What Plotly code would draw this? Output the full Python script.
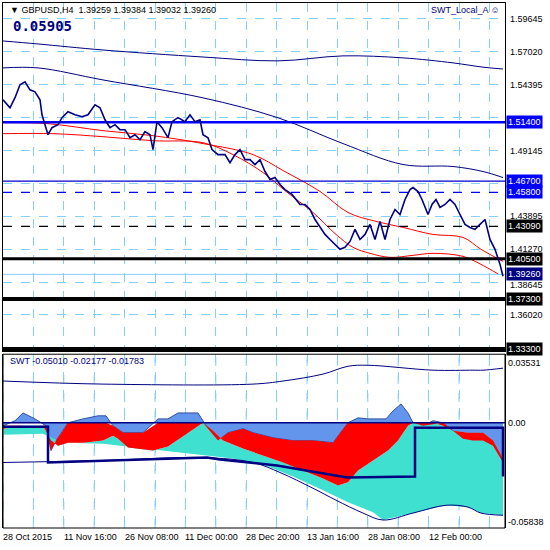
import plotly.graph_objects as go

# ---- price panel (x = bar index) ----
px_x = [0, 7, 12, 17, 22, 27, 32, 37, 39, 42, 45, 49, 55, 59, 65, 72, 79, 85, 92, 97, 102, 107, 112, 117, 122, 127,
        132, 137, 142, 147, 150, 154, 159, 165, 169, 175, 182, 187, 192, 197, 200, 205, 209, 215, 222, 227, 232, 237,
        242, 247, 252, 257, 262, 267, 272, 277, 282, 289, 297, 302, 307, 312, 317, 322, 327, 332, 337, 342, 347, 352,
        357, 362, 367, 372, 377, 382, 387, 392, 397, 402, 407, 410, 415, 419, 425, 429, 433, 437, 442, 447, 452, 457,
        462, 467, 472, 477, 482, 487, 492, 497, 500]
price = [1.5320, 1.5256, 1.5336, 1.5439, 1.5463, 1.5399, 1.5383, 1.5320, 1.5200, 1.5121, 1.5041, 1.5097, 1.5121,
         1.5177, 1.5224, 1.5200, 1.5184, 1.5200, 1.5280, 1.5256, 1.5160, 1.5097, 1.5121, 1.5081, 1.5081, 1.5017,
         1.5041, 1.5001, 1.5065, 1.5041, 1.4922, 1.5145, 1.5097, 1.5017, 1.5145, 1.5177, 1.5145, 1.5200, 1.5145,
         1.5160, 1.5041, 1.5017, 1.4922, 1.4882, 1.4882, 1.4818, 1.4882, 1.4922, 1.4842, 1.4842, 1.4802, 1.4842,
         1.4747, 1.4683, 1.4699, 1.4643, 1.4603, 1.4564, 1.4484, 1.4484, 1.4444, 1.4364, 1.4301, 1.4245, 1.4205,
         1.4166, 1.4126, 1.4142, 1.4189, 1.4285, 1.4205, 1.4245, 1.4325, 1.4205, 1.4349, 1.4205, 1.4364, 1.4444,
         1.4404, 1.4524, 1.4603, 1.4619, 1.4587, 1.4524, 1.4404, 1.4484, 1.4524, 1.4460, 1.4484, 1.4524, 1.4484,
         1.4404, 1.4325, 1.4301, 1.4285, 1.4325, 1.4364, 1.4205, 1.4126, 1.4006, 1.3911]

ma_fast_x = [0, 50, 100, 150, 200, 230, 260, 283, 310, 333, 350, 367, 387, 410, 430, 460, 477, 495]
ma_fast = [1.5049, 1.5049, 1.5025, 1.4993, 1.4977, 1.4882, 1.4739, 1.4588, 1.4420, 1.4245, 1.4142, 1.4094,
           1.4062, 1.4078, 1.4094, 1.4070, 1.4010, 1.3930]
ma_slow_x = [0, 45, 100, 150, 200, 250, 280, 317, 345, 373, 400, 430, 460, 478, 500]
ma_slow = [1.5137, 1.5129, 1.5073, 1.5033, 1.4970, 1.4882, 1.4755, 1.4588, 1.4420, 1.4349, 1.4301, 1.4245,
           1.4221, 1.4126, 1.4030]

env_x = [0, 35, 100, 200, 275, 340, 400, 450, 480, 500]
env_hi = [1.5789, 1.5765, 1.5717, 1.5661, 1.5630, 1.5670, 1.5654, 1.5614, 1.5580, 1.5565]
env_lo = [1.5574, 1.5574, 1.5478, 1.5335, 1.5176, 1.4970, 1.4803, 1.4787, 1.4747, 1.4699]

grid_prices = [1.59645, 1.57020, 1.54395, 1.51770, 1.49145, 1.46520, 1.43895, 1.41270, 1.38645, 1.36020]
grid_labels = ["1.59645", "1.57020", "1.54395", "", "1.49145", "", "1.43895", "1.41270", "1.38645", "1.36020"]

levels = [1.5140, 1.4670, 1.4580, 1.4309, 1.4050, 1.3926, 1.3730, 1.3330]
level_colors = ["#0000ff", "#0000cc", "#0000ff", "#000000", "#000000", "#87cefa", "#000000", "#000000"]
level_widths = [2.5, 1.2, 1.2, 1.2, 3, 1, 4, 4]
level_dash = ["solid", "solid", "dash", "dash", "solid", "solid", "solid", "solid"]
box_colors = ["#0000ff", "#0000ff", "#0000ff", "#000000", "#000000", "#000080", "#000000", "#000000"]

# ---- SWT panel ----
blue_x = [0, 12, 20, 32, 43, 48, 53, 60, 65, 80, 95, 103, 110, 120, 140, 155, 165, 175, 185, 195, 205, 215, 225,
          240, 250, 270, 290, 310, 330, 345, 355, 365, 375, 383, 390, 398, 405, 410, 420, 430, 440, 450, 460, 470,
          480, 490, 500]
blue = [-0.0018, 0.0012, 0.0058, 0.0023, -0.0018, -0.0164, -0.0105, -0.0047, 0.0, 0.0023, 0.0041, 0.0041, -0.0018,
        -0.0058, -0.0058, 0.0023, 0.0023, 0.0058, 0.0058, 0.0058, -0.0035, -0.0105, -0.0058, -0.0035, -0.0058,
        -0.0088, -0.0105, -0.0105, -0.0117, 0.0, 0.0029, 0.0023, 0.0023, 0.0023, 0.0070, 0.0111, 0.0058, 0.0,
        -0.0018, 0.0012, 0.0, -0.0047, -0.0094, -0.0105, -0.0105, -0.0135, -0.0234]
red_top_x = [0, 43, 48, 53, 60, 65, 103, 110, 120, 140, 155, 200, 205, 215, 225, 240, 250, 270, 290, 310, 330,
             345, 410, 420, 440, 450, 460, 470, 480, 490, 500]
red_top = [-0.0018, -0.0018, -0.0164, -0.0105, -0.0047, 0.0, 0.0, -0.0018, -0.0058, -0.0058, 0.0, 0.0, -0.0035,
           -0.0105, -0.0058, -0.0035, -0.0058, -0.0088, -0.0105, -0.0105, -0.0117, 0.0, 0.0, -0.0018, 0.0,
           -0.0047, -0.0094, -0.0105, -0.0105, -0.0135, -0.0234]
turq_x = [0, 20, 40, 48, 55, 65, 80, 100, 110, 115, 125, 150, 165, 185, 200, 210, 220, 240, 260, 280, 300, 320,
          335, 345, 355, 370, 385, 395, 400, 405, 410, 430, 440, 450, 465, 480, 490, 500]
turq_top = [-0.0035, -0.0018, -0.0018, -0.0105, -0.0135, -0.0117, -0.0117, -0.0105, -0.0076, -0.0094, -0.0146,
            -0.0164, -0.0140, -0.0058, 0.0, -0.0047, -0.0105, -0.0152, -0.0193, -0.0234, -0.0281, -0.0328,
            -0.0369, -0.0351, -0.0281, -0.0222, -0.0164, -0.0105, -0.0058, -0.0018, 0.0, 0.0, -0.0018, -0.0047,
            -0.0058, -0.0058, -0.0105, -0.0211]
turq_bot_x = [0, 40, 60, 100, 150, 200, 230, 260, 290, 320, 345, 370, 380, 410, 443, 465, 478, 500]
turq_bot = [-0.0070, -0.0064, -0.0117, -0.0123, -0.0158, -0.0193, -0.0211, -0.0246, -0.0316, -0.0398, -0.0468,
            -0.0527, -0.0573, -0.0532, -0.0486, -0.0497, -0.0532, -0.0545]
up_x = [0, 100, 250, 280, 320, 345, 365, 430, 470, 480, 500]
swt_up = [0.0246, 0.0228, 0.0228, 0.0246, 0.0287, 0.0333, 0.0339, 0.0310, 0.0310, 0.0310, 0.0322]
lo_x = [0, 100, 200, 250, 277, 310, 333, 360, 380, 410, 443, 465, 478, 500]
swt_lo = [-0.0234, -0.0222, -0.0205, -0.0234, -0.0293, -0.0386, -0.0456, -0.0532, -0.0573, -0.0532, -0.0486,
          -0.0497, -0.0532, -0.0545]
step_x = [0, 45, 45, 204, 217, 274, 344, 412, 412, 500, 500]
step = [-0.0023, -0.0023, -0.0234, -0.0205, -0.0216, -0.0252, -0.0322, -0.0316, -0.0029, -0.0029, -0.0316]

time_pos = [0, 61, 122, 182, 243, 304, 365, 426]
time_labels = ["28 Oct 2015", "11 Nov 16:00", "26 Nov 08:00", "11 Dec 00:00", "28 Dec 20:00",
               "13 Jan 16:00", "28 Jan 08:00", "12 Feb 00:00"]

NAVY = "#000080"
FONT = "Liberation Sans"
fig = go.Figure()

for xs, ys in [(env_x, env_hi), (env_x, env_lo)]:
    fig.add_trace(go.Scatter(x=xs, y=ys, mode="lines", line=dict(color=NAVY, width=1), line_shape="spline"))
for xs, ys in [(ma_fast_x, ma_fast), (ma_slow_x, ma_slow)]:
    fig.add_trace(go.Scatter(x=xs, y=ys, mode="lines", line=dict(color="red", width=1), line_shape="spline"))
for lv, c, w, d in zip(levels, level_colors, level_widths, level_dash):
    fig.add_trace(go.Scatter(x=[0, 502], y=[lv, lv], mode="lines", line=dict(color=c, width=w, dash=d)))
fig.add_trace(go.Scatter(x=px_x, y=price, mode="lines", line=dict(color=NAVY, width=1.6)))

# SWT fills
fig.add_trace(go.Scatter(x=blue_x, y=blue, mode="lines", fill="tozeroy", fillcolor="#6495ed",
                         line=dict(color="#3050a0", width=1), yaxis="y2"))
fig.add_trace(go.Scatter(x=turq_bot_x, y=turq_bot, mode="lines", line=dict(width=0), yaxis="y2"))
fig.add_trace(go.Scatter(x=turq_x, y=turq_top, mode="lines", fill="tonexty", fillcolor="#40e0d0",
                         line=dict(width=0), yaxis="y2"))
fig.add_trace(go.Scatter(x=turq_x, y=turq_top, mode="lines", line=dict(width=0), yaxis="y2"))
fig.add_trace(go.Scatter(x=red_top_x, y=red_top, mode="lines", fill="tonexty", fillcolor="#ff0000",
                         line=dict(width=0), yaxis="y2"))
fig.add_trace(go.Scatter(x=[0, 502], y=[0, 0], mode="lines", line=dict(color=NAVY, width=1.5), yaxis="y2"))
fig.add_trace(go.Scatter(x=up_x, y=swt_up, mode="lines", line=dict(color=NAVY, width=1), line_shape="spline", yaxis="y2"))
fig.add_trace(go.Scatter(x=lo_x, y=swt_lo, mode="lines", line=dict(color=NAVY, width=1), line_shape="spline", yaxis="y2"))
fig.add_trace(go.Scatter(x=step_x, y=step, mode="lines", line=dict(color=NAVY, width=2.5), yaxis="y2"))

ann = []
for p, t in zip(grid_prices, grid_labels):
    if t:
        ann.append(dict(x=1, xref="paper", y=p, yref="y", text=t, xanchor="left", showarrow=False,
                        font=dict(size=9, color="black"), xshift=3, yshift=-3 if p == 1.38645 else 0))
for lv, bc in zip(levels, box_colors):
    ann.append(dict(x=1, xref="paper", y=lv, yref="y", text=f"{lv:.5f}", xanchor="left", showarrow=False,
                    font=dict(size=9, color="white"), bgcolor=bc, borderpad=1, xshift=1))
for t, y in [("0.03531", 0.0353), ("0.00", 0.0), ("-0.05838", -0.0584)]:
    ann.append(dict(x=1, xref="paper", y=y, yref="y2", text=t, xanchor="left", showarrow=False,
                    font=dict(size=9, color="black"), xshift=1))
for pos, t in zip(time_pos, time_labels):
    ann.append(dict(x=pos, xref="x", y=0, yref="paper", text=t, xanchor="left", yanchor="top", showarrow=False,
                    font=dict(size=9, color="black"), yshift=-2, xshift=-2))
ann += [
    dict(x=0.01, xref="paper", y=1, yref="paper", text="▼ GBPUSD,H4  1.39259 1.39384 1.39032 1.39260",
         xanchor="left", yanchor="top", showarrow=False, font=dict(size=9, color="black")),
    dict(x=0.015, xref="paper", y=0.975, yref="paper", text="<b>0.05905</b>", xanchor="left", yanchor="top",
         showarrow=False, font=dict(size=14, color=NAVY, family="DejaVu Sans Mono")),
    dict(x=0.995, xref="paper", y=1, yref="paper", text="SWT_Local_A ☺", xanchor="right", yanchor="top",
         showarrow=False, font=dict(size=9, color=NAVY)),
    dict(x=0.01, xref="paper", y=0.331, yref="paper", text="SWT -0.05010 -0.02177 -0.01783", xanchor="left",
         yanchor="top", showarrow=False, font=dict(size=9, color=NAVY)),
]

fig.update_layout(
    width=550, height=550, margin=dict(l=3, r=45, t=3, b=22),
    paper_bgcolor="white", plot_bgcolor="white", showlegend=False,
    font=dict(family=FONT),
    xaxis=dict(range=[0, 502], tick0=0, dtick=30.4, showgrid=True, gridcolor="#87cefa", griddash="dash",
               showticklabels=False, zeroline=False, showline=True, linecolor="black", mirror=True),
    yaxis=dict(domain=[0.337, 1], range=[1.3314, 1.6092], tickvals=grid_prices, showticklabels=False,
               gridcolor="#87cefa", griddash="dash", zeroline=False, showline=True, linecolor="black",
               mirror=True, side="right", ticks=""),
    yaxis2=dict(domain=[0, 0.331], range=[-0.062, 0.0404], showgrid=False, showticklabels=False,
                zeroline=False, showline=True, linecolor="black", mirror=True),
    annotations=ann,
)
fig.add_shape(type="rect", xref="paper", yref="paper", x0=0, x1=1, y0=0, y1=0.331,
              line=dict(color="black", width=1))
for i in range(17):
    fig.add_shape(type="line", xref="x", yref="paper", x0=i * 30.4, x1=i * 30.4, y0=0, y1=0.331,
                  line=dict(color="#87cefa", width=1, dash="dash"), layer="below")

fig.write_html("out.html", config={"displayModeBar": False},
               post_script="document.body.style.margin='0';document.body.style.overflow='hidden';")
